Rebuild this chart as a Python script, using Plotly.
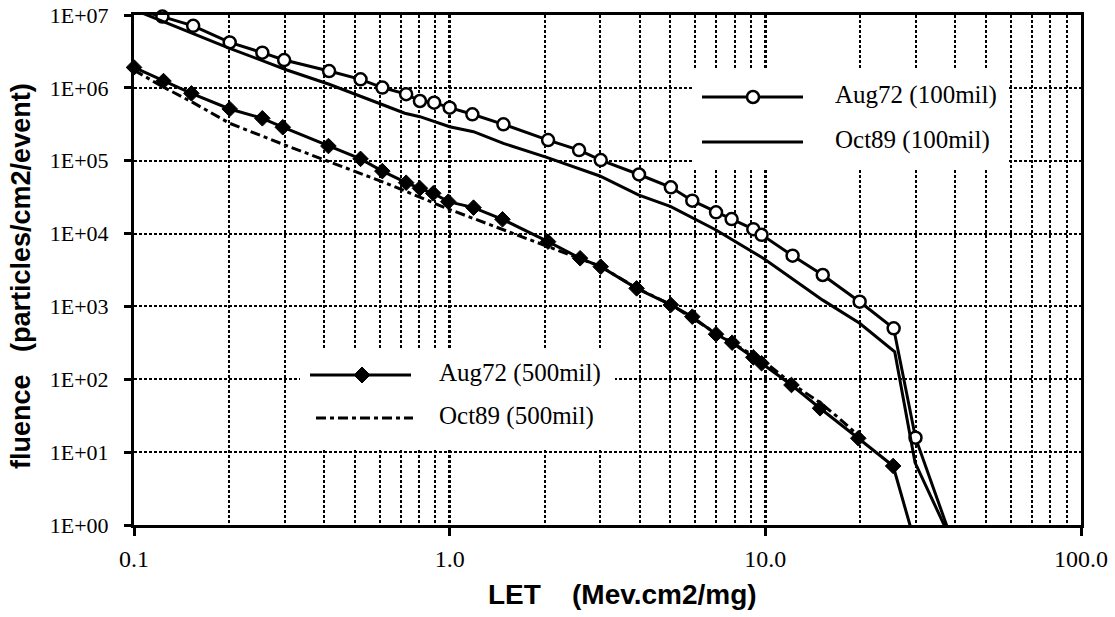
import plotly.graph_objects as go

# LET (MeV.cm2/mg) and fluence (particles/cm2/event)
aug72_100_let = [0.1, 0.123, 0.154, 0.201, 0.255, 0.299, 0.415, 0.522, 0.612, 0.728, 0.805,
                 0.893, 1.0, 1.18, 1.48, 2.05, 2.57, 3.01, 3.98, 5.02, 5.87, 6.98, 7.82,
                 9.16, 9.73, 12.2, 15.2, 19.9, 25.5, 29.9, 38.6]
aug72_100_flu = [1.2e7, 9.5e6, 7.1e6, 4.2e6, 3.04e6, 2.41e6, 1.70e6, 1.31e6, 1.01e6, 8.2e5, 6.6e5,
                 6.26e5, 5.35e5, 4.34e5, 3.16e5, 1.92e5, 1.40e5, 1.02e5, 6.47e4, 4.32e4, 2.83e4,
                 1.96e4, 1.58e4, 1.15e4, 9.6e3, 4.97e3, 2.70e3, 1.16e3, 501, 15.8, 0.7]

oct89_100_let = [0.1, 0.201, 0.305, 0.415, 0.605, 0.721, 0.805, 1.0, 1.19, 1.48, 2.03, 2.99,
                 3.96, 5.02, 6.98, 9.85, 15.2, 19.9, 25.7, 29.8, 38.0]
oct89_100_flu = [1.18e7, 3.49e6, 1.76e6, 1.12e6, 6.0e5, 4.48e5, 4.02e5, 2.93e5, 2.50e5, 1.73e5,
                 1.11e5, 6.17e4, 3.39e4, 2.34e4, 1.12e4, 4.58e3, 1.22e3, 588, 239, 7.2, 0.75]

aug72_500_let = [0.1, 0.124, 0.152, 0.201, 0.255, 0.296, 0.413, 0.522, 0.612, 0.728, 0.805,
                 0.887, 0.99, 1.19, 1.47, 2.05, 2.59, 3.01, 3.91, 5.02, 5.87, 6.98, 7.85,
                 9.16, 9.73, 12.1, 14.9, 19.7, 25.4, 29.4]
aug72_500_flu = [1.91e6, 1.24e6, 8.4e5, 5.13e5, 3.82e5, 2.88e5, 1.59e5, 1.06e5, 7.2e4, 4.99e4,
                 4.18e4, 3.57e4, 2.74e4, 2.27e4, 1.57e4, 7.74e3, 4.58e3, 3.51e3, 1.77e3, 1.05e3,
                 723, 415, 318, 200, 166, 83.5, 40, 15.5, 6.46, 0.7]

oct89_500_let = [0.1, 0.124, 0.152, 0.201, 0.301, 0.415, 0.631, 0.978, 1.48, 2.03, 2.59, 3.0,
                 3.9, 5.0, 7.0, 10.0, 12.1, 14.9, 17.0, 20.0]
oct89_500_flu = [1.75e6, 1.02e6, 6.46e5, 3.26e5, 1.64e5, 9.7e4, 4.9e4, 2.22e4, 1.12e4, 6.6e3,
                 4.5e3, 3.55e3, 1.8e3, 1.07e3, 425, 170, 88, 48, 30, 16]

x_tickvals = [0.1, 1, 10, 100]
x_ticktext = ["0.1", "1.0", "10.0", "100.0"]
y_tickvals = [1, 1e1, 1e2, 1e3, 1e4, 1e5, 1e6, 1e7]
y_ticktext = ["1E+00", "1E+01", "1E+02", "1E+03", "1E+04", "1E+05", "1E+06", "1E+07"]

legend_labels = ["Aug72 (100mil)", "Oct89 (100mil)", "Aug72 (500mil)", "Oct89 (500mil)"]

# page is 1115x617; body margin is removed in post_script so figure == page
W, H = 1115, 617
ML, MT = 134, 15
MR, MB = W - 1081, H - 525
PW, PH = W - ML - MR, H - MT - MB


def px(x):
    # page pixel -> paper fraction
    return (x - ML) / PW


def py(y):
    return 1 - (y - MT) / PH


def visible(vals):
    # hide markers that fall outside the y range
    return [12 if 1 <= v <= 1e7 else 0 for v in vals]


fig = go.Figure()

fig.add_trace(go.Scatter(
    x=aug72_100_let, y=aug72_100_flu, mode="lines+markers", name=legend_labels[0],
    line=dict(color="black", width=3),
    marker=dict(symbol="circle", size=visible(aug72_100_flu), color="white", opacity=1,
                line=dict(color="black", width=2.5)),
    cliponaxis=False,
))
fig.add_trace(go.Scatter(
    x=oct89_100_let, y=oct89_100_flu, mode="lines", name=legend_labels[1],
    line=dict(color="black", width=3),
))
fig.add_trace(go.Scatter(
    x=oct89_500_let, y=oct89_500_flu, mode="lines", name=legend_labels[3],
    line=dict(color="black", width=3, dash="10px,4px,4px,4px"),
))
fig.add_trace(go.Scatter(
    x=aug72_500_let, y=aug72_500_flu, mode="lines+markers", name=legend_labels[2],
    line=dict(color="black", width=3),
    marker=dict(symbol="diamond", size=visible(aug72_500_flu), color="black", opacity=1,
                line=dict(color="black", width=1)),
    cliponaxis=False,
))

# hand drawn legends (two separate boxes as in the original)
shapes = []
for x0, y0, x1, y1 in [(692, 70, 1008, 170), (300, 350, 615, 449)]:
    shapes.append(dict(type="rect", xref="paper", yref="paper", layer="above",
                       x0=px(x0), x1=px(x1), y0=py(y1), y1=py(y0),
                       fillcolor="white", line=dict(width=0)))

legend_rows = [
    (702, 803, 97, "solid", 833),
    (702, 803, 142, "solid", 833),
    (310, 411, 375, "solid", 437),
    (316, 413, 418, "10px,4px,4px,4px", 437),
]
annotations = []
for (xa, xb, yy, dash, tx), label in zip(legend_rows, legend_labels):
    shapes.append(dict(type="line", xref="paper", yref="paper", layer="above",
                       x0=px(xa), x1=px(xb), y0=py(yy), y1=py(yy),
                       line=dict(color="black", width=3, dash=dash)))
    annotations.append(dict(text=label, xref="paper", yref="paper", x=px(tx), y=py(yy - 2),
                            xanchor="left", yanchor="middle", showarrow=False,
                            font=dict(family="Liberation Serif", size=25, color="black")))

shapes.append(dict(type="circle", xref="paper", yref="paper", xsizemode="pixel", ysizemode="pixel",
                   xanchor=px(753), yanchor=py(97), x0=-6, x1=6, y0=-6, y1=6, layer="above",
                   fillcolor="white", line=dict(color="black", width=2.5)))
shapes.append(dict(type="path", xref="paper", yref="paper", xsizemode="pixel", ysizemode="pixel",
                   xanchor=px(362), yanchor=py(375), path="M-8,0L0,8L8,0L0,-8Z", layer="above",
                   fillcolor="black", line=dict(color="black", width=1)))

title_font = dict(family="Liberation Sans, Arial", size=27, color="black", weight="bold")
annotations.append(dict(text="LET\u00a0\u00a0\u00a0\u00a0(Mev.cm2/mg)", xref="paper", yref="paper",
                        x=px(622), y=py(594), xanchor="center", yanchor="middle",
                        showarrow=False, font=dict(title_font, size=28)))
annotations.append(dict(text="fluence\u00a0\u00a0\u00a0(particles/cm2/event)", xref="paper", yref="paper",
                        x=px(21), y=py(276), xanchor="center", yanchor="middle", textangle=-90,
                        showarrow=False, font=title_font))

minor_x = [d * 10 ** e for e in range(-1, 2) for d in range(2, 10)]

fig.update_layout(
    width=W, height=H,
    margin=dict(l=ML, r=MR, t=MT, b=MB, autoexpand=False),
    paper_bgcolor="white", plot_bgcolor="white",
    showlegend=False,
    shapes=shapes,
    annotations=annotations,
    xaxis=dict(
        type="log", range=[-1, 2], automargin=False,
        tickmode="array", tickvals=x_tickvals, ticktext=x_ticktext,
        ticks="outside", ticklen=8, tickwidth=3, tickcolor="black", ticklabelstandoff=2,
        ticklabeloverflow="allow",
        tickfont=dict(family="Liberation Serif", size=24, color="black"),
        showline=True, linewidth=3, linecolor="black", mirror=True,
        showgrid=True, gridcolor="black", gridwidth=2.5, griddash="3px,2px",
        minor=dict(tickmode="array", tickvals=minor_x, showgrid=True, gridcolor="black",
                   gridwidth=1.6, griddash="3px,2px", ticks=""),
    ),
    yaxis=dict(
        type="log", range=[0, 7], automargin=False,
        tickmode="array", tickvals=y_tickvals, ticktext=y_ticktext,
        ticks="outside", ticklen=7, tickwidth=3, tickcolor="black", ticklabelstandoff=11,
        ticklabeloverflow="allow",
        tickfont=dict(family="Liberation Serif", size=22, color="black"),
        showline=True, linewidth=3, linecolor="black", mirror=True,
        showgrid=True, gridcolor="black", gridwidth=2, griddash="3px,2px",
    ),
)

fig.write_html("out.html", config={"displayModeBar": False},
               post_script="document.body.style.margin='0';")
